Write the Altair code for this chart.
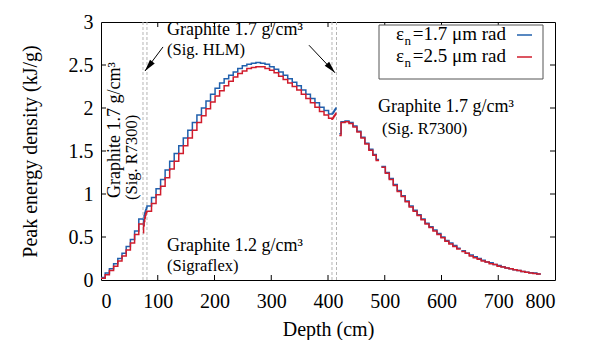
import altair as alt
import pandas as pd

FONT = "'Liberation Serif', 'Times New Roman', Times, 'DejaVu Serif', serif"
BLUE = "#2060ad"
RED = "#d01c2c"

# ---- data (bin left edges, end edge, values) ----
A_edges = [0, 7.4, 14.8, 22.2, 29.6, 37, 44.4, 51.8, 59.2, 66.6]
A_end = 74
A_blue = [0.03, 0.08, 0.13, 0.19, 0.25, 0.31, 0.39, 0.47, 0.57, 0.71]
A_red = [0.02, 0.06, 0.11, 0.16, 0.22, 0.28, 0.35, 0.43, 0.53, 0.65]

# HLM (74-81) + Sigraflex (81-407) + HLM (407-415)
B_edges = [74, 75, 76, 77, 78, 79, 80,
           81, 89, 97, 105, 113, 121, 129, 137, 145, 153, 161, 169, 177, 185,
           193, 201, 209, 217, 225, 233, 241, 249, 257, 265, 273, 281, 289, 297,
           305, 313, 321, 329, 337, 345, 353, 361, 369, 377, 385, 393, 401,
           407, 408, 409, 410, 411, 412, 413, 414]
B_end = 415
B_blue = [0.63, 0.70, 0.75, 0.78, 0.80, 0.82, 0.84,
          0.86, 0.96, 1.06, 1.17, 1.28, 1.38, 1.47, 1.56, 1.65, 1.74, 1.83, 1.92, 2.00, 2.08,
          2.16, 2.23, 2.29, 2.34, 2.38, 2.42, 2.46, 2.49, 2.51, 2.52, 2.53, 2.52, 2.51, 2.48,
          2.45, 2.42, 2.38, 2.34, 2.30, 2.26, 2.21, 2.16, 2.11, 2.06, 2.01, 1.97, 1.93,
          1.93, 1.94, 1.95, 1.96, 1.97, 1.98, 1.99, 2.00]
B_red = [0.55, 0.63, 0.68, 0.72, 0.75, 0.77, 0.79,
         0.80, 0.89, 0.99, 1.09, 1.19, 1.29, 1.38, 1.47, 1.56, 1.65, 1.74, 1.83, 1.91, 1.99,
         2.07, 2.14, 2.20, 2.26, 2.31, 2.36, 2.40, 2.43, 2.46, 2.47, 2.48, 2.48, 2.46, 2.44,
         2.41, 2.37, 2.33, 2.29, 2.25, 2.21, 2.16, 2.11, 2.06, 2.01, 1.96, 1.92, 1.88,
         1.87, 1.88, 1.89, 1.90, 1.91, 1.92, 1.93, 1.94]

C1_edges = [420, 423, 430, 437, 444, 451, 458, 465, 472, 479, 485]
C1_end = 490
C1_blue = [1.70, 1.84, 1.85, 1.83, 1.79, 1.73, 1.66, 1.59, 1.52, 1.46, 1.40]
C1_red = [1.68, 1.83, 1.84, 1.82, 1.78, 1.72, 1.65, 1.58, 1.51, 1.45, 1.39]

C2_edges = [494, 501, 508, 515, 522, 529, 536, 543, 550, 557, 564, 571, 578, 585,
            592, 599, 606, 613, 620, 627]
C2_end = 634
C2_blue = [1.32, 1.25, 1.18, 1.11, 1.04, 0.98, 0.92, 0.86, 0.81, 0.76, 0.71, 0.66,
           0.62, 0.58, 0.54, 0.50, 0.46, 0.43, 0.40, 0.37]
C2_red = [1.31, 1.24, 1.17, 1.10, 1.03, 0.97, 0.91, 0.85, 0.80, 0.75, 0.70, 0.65,
          0.61, 0.57, 0.53, 0.49, 0.45, 0.42, 0.39, 0.36]

C3_edges = [635, 642, 649, 656, 663, 670, 677, 684, 691, 698, 705, 712, 719, 726,
            733, 740, 747, 754, 761, 768]
C3_end = 775
C3_blue = [0.34, 0.31, 0.29, 0.27, 0.25, 0.23, 0.21, 0.20, 0.18, 0.17, 0.155, 0.14,
           0.13, 0.12, 0.11, 0.10, 0.09, 0.085, 0.08, 0.07]
C3_red = [0.33, 0.31, 0.28, 0.26, 0.24, 0.22, 0.21, 0.19, 0.18, 0.16, 0.15, 0.14,
          0.13, 0.12, 0.11, 0.10, 0.09, 0.08, 0.075, 0.07]

boundaries = [74, 81, 407, 415]
x_ticks = [0, 100, 200, 300, 400, 500, 600, 700, 800]
y_ticks = [0, 0.5, 1, 1.5, 2, 2.5, 3]

segments = [
    ("A", A_edges, A_end, A_blue, A_red),
    ("B", B_edges, B_end, B_blue, B_red),
    ("C1", C1_edges, C1_end, C1_blue, C1_red),
    ("C2", C2_edges, C2_end, C2_blue, C2_red),
    ("C3", C3_edges, C3_end, C3_blue, C3_red),
]


def build(idx):
    rows = []
    for name, edges, end, blue, red in segments:
        vals = blue if idx == 0 else red
        for d, v in zip(edges, vals):
            rows.append({"depth": d, "val": v, "seg": name})
        rows.append({"depth": end, "val": vals[-1], "seg": name})
    return pd.DataFrame(rows)


df_blue = build(0)
df_red = build(1)

W, H = 454, 258

xs = alt.Scale(domain=[0, 800], nice=False, zero=False)
ys = alt.Scale(domain=[0, 3], nice=False)
X = alt.X("depth:Q", scale=xs, title="Depth (cm)",
          axis=alt.Axis(values=x_ticks, format="d", labelPadding=11, titlePadding=8))
Y = alt.Y("val:Q", scale=ys, title="Peak energy density (kJ/g)",
          axis=alt.Axis(values=y_ticks, format="~g", labelPadding=8, titlePadding=28))

dashed = alt.Chart(pd.DataFrame({"depth": boundaries})).mark_rule(
    color="#b5b5b5", strokeDash=[3, 2], strokeWidth=1).encode(x=X)

line_blue = alt.Chart(df_blue).mark_line(
    interpolate="step-after", color=BLUE, strokeWidth=1.5).encode(x=X, y=Y, detail="seg:N")
line_red = alt.Chart(df_red).mark_line(
    interpolate="step-after", color=RED, strokeWidth=1.5).encode(x=X, y=Y, detail="seg:N")

# inward ticks
tick_x = pd.DataFrame({"depth": x_ticks[1:-1]})
tick_y = pd.DataFrame({"val": y_ticks[1:-1]})
TK = 5
tb = alt.Chart(tick_x).mark_rule(color="black").encode(x=X, y=alt.value(H), y2=alt.value(H - TK))
tt = alt.Chart(tick_x).mark_rule(color="black").encode(x=X, y=alt.value(0), y2=alt.value(TK))
tl = alt.Chart(tick_y).mark_rule(color="black").encode(y=Y, x=alt.value(0), x2=alt.value(TK))
tr = alt.Chart(tick_y).mark_rule(color="black").encode(y=Y, x=alt.value(W), x2=alt.value(W - TK))

# annotations
main_txt = pd.DataFrame({
    "depth": [116.3, 488, 116.3],
    "val": [2.91, 2.01, 0.40],
    "t": ["Graphite 1.7 g/cm³", "Graphite 1.7 g/cm³", "Graphite 1.2 g/cm³"],
})
sub_txt = pd.DataFrame({
    "depth": [116.3, 495, 116.3],
    "val": [2.67, 1.76, 0.165],
    "t": ["(Sig. HLM)", "(Sig. R7300)", "(Sigraflex)"],
})
ann_main = alt.Chart(main_txt).mark_text(
    font=FONT, fontSize=18, align="left", baseline="middle", color="black"
).encode(x=X, y=Y, text="t:N")
ann_sub = alt.Chart(sub_txt).mark_text(
    font=FONT, fontSize=16.5, align="left", baseline="middle", color="black"
).encode(x=X, y=Y, text="t:N")

rot_main = alt.Chart(pd.DataFrame({"depth": [24.7], "val": [0.953], "t": ["Graphite 1.7 g/cm³"]})).mark_text(
    font=FONT, fontSize=18, align="left", baseline="middle", angle=270, color="black"
).encode(x=X, y=Y, text="t:N")
rot_sub = alt.Chart(pd.DataFrame({"depth": [54.6], "val": [0.93], "t": ["(Sig. R7300)"]})).mark_text(
    font=FONT, fontSize=16.5, align="left", baseline="middle", angle=270, color="black"
).encode(x=X, y=Y, text="t:N")

# arrows
arrow_lines = pd.DataFrame({
    "depth": [109.3, 366.5], "val": [2.71, 2.73],
    "depth2": [77.5, 412.3], "val2": [2.43, 2.41],
})
arr = alt.Chart(arrow_lines).mark_rule(color="black", strokeWidth=1).encode(
    x=X, y=Y, x2="depth2:Q", y2="val2:Q")
HEAD = "M0,0 L-0.6,2.4 L0.6,2.4 Z"
head_l = alt.Chart(pd.DataFrame({"depth": [77.5], "val": [2.43]})).mark_point(
    shape=HEAD, filled=True, color="black", size=100, angle=218, opacity=1, strokeWidth=0
).encode(x=X, y=Y)
head_r = alt.Chart(pd.DataFrame({"depth": [412.3], "val": [2.41]})).mark_point(
    shape=HEAD, filled=True, color="black", size=100, angle=138, opacity=1, strokeWidth=0
).encode(x=X, y=Y)

# manual legend
leg_labels = ["=1.7 μm rad", "=2.5 μm rad"]
leg_base = [18, 40]
box = alt.Chart(pd.DataFrame({"k": [0]})).mark_rect(
    fill="white", stroke="#555", strokeWidth=1
).encode(x=alt.value(278), x2=alt.value(442), y=alt.value(3), y2=alt.value(57))
leg_layers = [box]
for lab, yb, col in zip(leg_labels, leg_base, [BLUE, RED]):
    d = pd.DataFrame({"t": [lab]})
    leg_layers.append(alt.Chart(d).mark_text(
        font=FONT, fontSize=19, align="right", baseline="alphabetic", color="black"
    ).encode(x=alt.value(405), y=alt.value(yb), text="t:N"))
    leg_layers.append(alt.Chart(pd.DataFrame({"t": ["n"]})).mark_text(
        font=FONT, fontSize=13, align="right", baseline="alphabetic", color="black"
    ).encode(x=alt.value(310), y=alt.value(yb + 5), text="t:N"))
    leg_layers.append(alt.Chart(pd.DataFrame({"t": ["ε"]})).mark_text(
        font=FONT, fontSize=19, align="right", baseline="alphabetic", color="black"
    ).encode(x=alt.value(303), y=alt.value(yb), text="t:N"))
    leg_layers.append(alt.Chart(pd.DataFrame({"k": [0]})).mark_rule(
        color=col, strokeWidth=1.5
    ).encode(x=alt.value(416), x2=alt.value(431), y=alt.value(yb - 5)))

chart = alt.layer(
    dashed, line_blue, line_red, tb, tt, tl, tr,
    ann_main, ann_sub, rot_main, rot_sub, arr, head_l, head_r,
    *leg_layers
).properties(
    width=W, height=H,
    autosize=alt.AutoSizeParams(type="none"),
    padding={"left": 93, "top": 14, "right": 30, "bottom": 60},
).configure_view(
    stroke="black", strokeWidth=1
).configure_axis(
    grid=False, domain=False, ticks=False,
    labelFont=FONT, titleFont=FONT, labelFontSize=20, titleFontSize=20,
    labelColor="black", titleColor="black", titleFontWeight="normal"
)

chart.save("out.html", embed_options={"renderer": "svg", "actions": False})
